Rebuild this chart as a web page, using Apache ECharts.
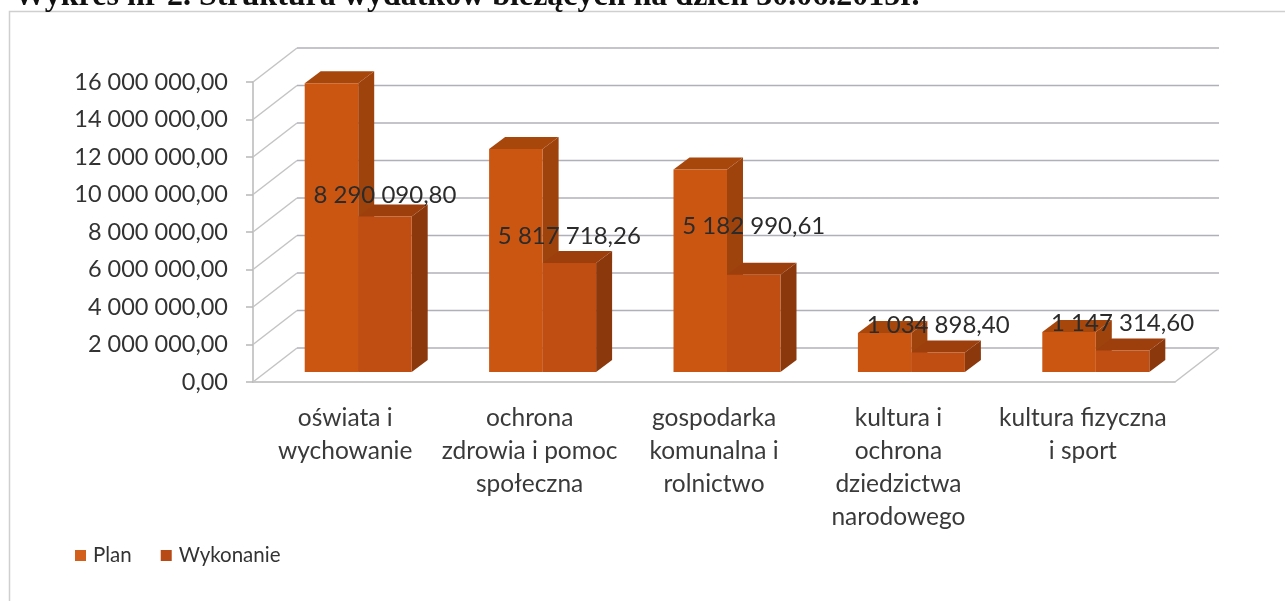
<!DOCTYPE html>
<html>
<head>
<meta charset="utf-8">
<title>Wykres nr 2</title>
<style>
html, body { margin: 0; padding: 0; background: #fff; }
#chart { width: 1285px; height: 601px; }
</style>
<script src="https://cdn.jsdelivr.net/npm/echarts@6/dist/echarts.min.js"></script>
</head>
<body>
<div id="chart"></div>
<script>
const categories = [
    'oświata i\nwychowanie',
    'ochrona\nzdrowia i pomoc\nspołeczna',
    'gospodarka\nkomunalna i\nrolnictwo',
    'kultura i\nochrona\ndziedzictwa\nnarodowego',
    'kultura fizyczna\ni sport'
];
const planValues = [15400000, 11900000, 10800000, 2080000, 2130000];
const wykonanieValues = [8290090.80, 5817718.26, 5182990.61, 1034898.40, 1147314.60];
const wykonanieLabels = ['8 290 090,80', '5 817 718,26', '5 182 990,61', '1 034 898,40', '1 147 314,60'];
const yTicks = [0, 2000000, 4000000, 6000000, 8000000, 10000000, 12000000, 14000000, 16000000];

// how far each value label floats above its bar
const labelLift = [21, 27, 49, 27, 27];

const FONT = 'Lato';
const WALL_DX = 44, WALL_DY = 34;   // depth of the 3d box
const BAR_DX = 16, BAR_DY = 12;     // depth of one bar
const BAR_SHIFT_X = 13, BAR_SHIFT_Y = 10; // bars stand a bit behind the front edge
const BAR_W = 53.5;

function polygon(points, fill) {
    return { type: 'polygon', shape: { points: points }, style: { fill: fill } };
}

function barItem(side, colors, labels) {
    return function (params, api) {
        const i = api.value(0);
        const top = api.coord([i, api.value(1)]);
        const base = api.coord([i, 0]);
        const x0 = top[0] + BAR_SHIFT_X + (side < 0 ? -BAR_W : 0);
        const x1 = x0 + BAR_W;
        const yT = top[1] - BAR_SHIFT_Y;
        const yB = base[1] - BAR_SHIFT_Y;
        const children = [
            polygon([[x1, yT], [x1 + BAR_DX, yT - BAR_DY], [x1 + BAR_DX, yB - BAR_DY], [x1, yB]], colors.side),
            polygon([[x0, yT], [x0 + BAR_DX, yT - BAR_DY], [x1 + BAR_DX, yT - BAR_DY], [x1, yT]], colors.top),
            {
                type: 'rect',
                shape: { x: x0, y: yT, width: BAR_W, height: yB - yT },
                style: { fill: colors.front }
            }
        ];
        if (labels) {
            children.push({
                type: 'text',
                style: {
                    text: labels[i],
                    x: x1 - BAR_W / 2,
                    y: yT - labelLift[i],
                    align: 'center',
                    verticalAlign: 'middle',
                    font: '24px ' + FONT,
                    fill: '#2b2b2b'
                }
            });
        }
        return { type: 'group', children: children };
    };
}

function wallItem(params, api) {
    const y = api.coord([0, api.value(1)])[1];
    const x0 = params.coordSys.x;
    const x1 = x0 + params.coordSys.width;
    const children = [
        {
            type: 'line',
            shape: { x1: x0, y1: y, x2: x0 + WALL_DX, y2: y - WALL_DY },
            style: { stroke: '#c4c4c4', lineWidth: 1.5 }
        },
        {
            type: 'line',
            shape: { x1: x0 + WALL_DX, y1: y - WALL_DY, x2: x1 + WALL_DX, y2: y - WALL_DY },
            style: { stroke: '#b0b0b8', lineWidth: 1.5 }
        }
    ];
    if (api.value(1) === 0) {
        children.push({
            type: 'line',
            shape: { x1: x1, y1: y, x2: x1 + WALL_DX, y2: y - WALL_DY },
            style: { stroke: '#c4c4c4', lineWidth: 1.5 }
        });
    }
    return { type: 'group', children: children };
}

const chart = echarts.init(document.getElementById('chart'));

chart.setOption({
    animation: false,
    backgroundColor: '#fff',
    title: {
        text: 'Wykres nr 2. Struktura wydatków bieżących na dzień 30.06.2015r.',
        left: 9,
        top: -24,
        textStyle: { fontFamily: 'Liberation Serif', fontWeight: 'bold', fontSize: 32, color: '#111' }
    },
    graphic: [
        {
            type: 'polyline',
            shape: { points: [[1285, 11.5], [9.5, 11.5], [9.5, 601]] },
            style: { stroke: '#cfcfcf', lineWidth: 1.5, fill: null },
            silent: true
        }
    ],
    legend: {
        left: 70,
        top: 540,
        itemWidth: 11,
        itemHeight: 11,
        itemGap: 29,
        icon: 'rect',
        textStyle: { fontFamily: FONT, fontSize: 20.5, color: '#333', padding: [0, 0, 0, 2] },
        data: ['Plan', 'Wykonanie']
    },
    grid: { left: 253, right: 110, top: 82, bottom: 219 },
    xAxis: {
        type: 'category',
        data: categories,
        axisLine: { lineStyle: { color: '#b8b8b8', width: 1.5 } },
        axisTick: { length: 6, lineStyle: { color: '#b8b8b8', width: 1.5 } },
        axisLabel: {
            interval: 0,
            margin: 20,
            fontFamily: FONT,
            fontSize: 24.5,
            lineHeight: 33,
            color: '#3a3a3a'
        }
    },
    yAxis: {
        type: 'value',
        min: 0,
        max: 16000000,
        interval: 2000000,
        splitLine: { show: false },
        axisLine: { show: true, lineStyle: { color: '#b8b8b8', width: 1.5 } },
        axisTick: { show: true, length: 7, lineStyle: { color: '#b8b8b8', width: 1.5 } },
        axisLabel: {
            margin: 25,
            fontFamily: FONT,
            fontSize: 23.5,
            color: '#333',
            padding: [7, 0, 0, 0],
            formatter: function (v) {
                return String(v).replace(/\B(?=(\d{3})+$)/g, ' ') + ',00';
            }
        }
    },
    series: [
        {
            name: 'walls',
            type: 'custom',
            z: 1,
            silent: true,
            clip: false,
            renderItem: wallItem,
            data: yTicks.map(function (t) { return [0, t]; })
        },
        {
            name: 'Plan',
            type: 'custom',
            z: 3,
            clip: false,
            itemStyle: { color: '#d2601c' },
            renderItem: barItem(-1, { front: '#cb5612', top: '#a8470c', side: '#9e430c' }),
            data: planValues.map(function (v, i) { return [i, v]; })
        },
        {
            name: 'Wykonanie',
            type: 'custom',
            z: 4,
            clip: false,
            itemStyle: { color: '#b84a16' },
            renderItem: barItem(1, { front: '#c04e12', top: '#9c3f0c', side: '#8a380c' }, wykonanieLabels),
            data: wykonanieValues.map(function (v, i) { return [i, v]; })
        }
    ]
});
</script>
</body>
</html>
